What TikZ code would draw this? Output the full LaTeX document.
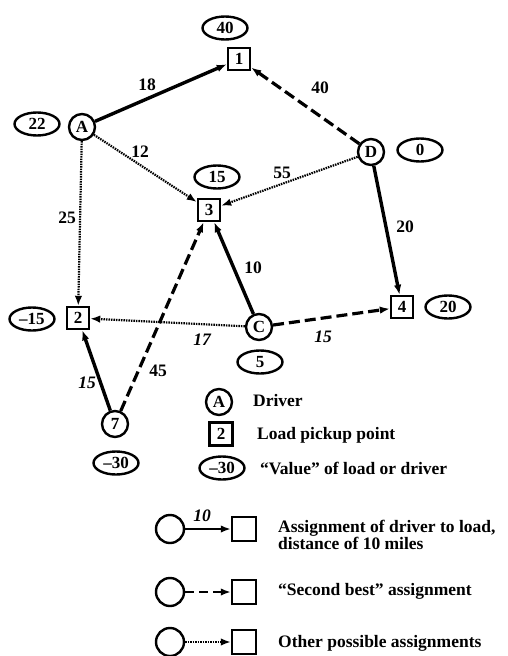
\documentclass[tikz,border=0pt]{standalone}
\usepackage{fontspec}
\setmainfont{Liberation Serif}
\usetikzlibrary{arrows.meta,shapes.geometric}
\begin{document}
\begin{tikzpicture}[x=1pt,y=-1pt,
  drv/.style={circle,draw,line width=2.4pt,minimum size=26pt,inner sep=0pt,font=\fontsize{17}{17}\selectfont\bfseries},
  ld/.style={rectangle,draw,line width=2.4pt,minimum size=22pt,inner sep=0pt,font=\fontsize{17}{17}\selectfont\bfseries},
  val/.style={ellipse,draw,line width=2.4pt,minimum width=45pt,minimum height=23pt,inner sep=0pt,font=\fontsize{17}{17}\selectfont\bfseries},
  lbl/.style={inner sep=0pt,font=\fontsize{17.5}{17}\selectfont\bfseries},
  ilbl/.style={inner sep=0pt,font=\fontsize{17.5}{17}\selectfont\bfseries\itshape},
  txt/.style={inner sep=0pt,anchor=west,align=left,font=\fontsize{17.5}{16}\selectfont\bfseries},
  tip/.style={-{Latex[length=10pt,width=7.5pt]}},
  best/.style={tip,line width=3.4pt},
  second/.style={tip,line width=3.2pt,dash pattern=on 11pt off 5pt},
  other/.style={tip,line width=2.2pt,dash pattern=on 1.5pt off 1pt}
]
\useasboundingbox (0,0) rectangle (508,656);

% drivers
\node[drv] (A) at (82,127) {A};
\node[drv] (D) at (371,152) {D};
\node[drv] (C) at (259,327) {C};
\node[drv] (N7) at (115,424) {7};
% loads
\node[ld] (L1) at (239,59) {1};
\node[ld] (L3) at (209,210) {3};
\node[ld] (L2) at (78,318) {2};
\node[ld] (L4) at (402,307) {4};
% values
\node[val] (V1) at (225,28) {40};
\node[val] (VA) at (37,124) {22};
\node[val] (V3) at (217,177) {15};
\node[val] (VD) at (420,150) {0};
\node[val] (V4) at (448,307) {20};
\node[val] (V2) at (32,319) {--15};
\node[val] (VC) at (260,362) {5};
\node[val] (V7) at (116,463) {--30};

% connectors
\draw[best] (A) -- (L1);
\draw[second] (D) -- (L1);
\draw[other] (A) -- (L3);
\draw[other] (D) -- (L3);
\draw[other] (A) -- (L2);
\draw[best] (D) -- (L4);
\draw[best] (C) -- (L3);
\draw[other] (C) -- (L2);
\draw[second] (C) -- (L4);
\draw[best] (N7) -- (L2);
\draw[second] (N7) -- (L3);

% connector labels
\node[lbl] (e18) at (147,85) {18};
\node[lbl] (e40) at (320,88) {40};
\node[lbl] (e12) at (140,152) {12};
\node[lbl] (e55) at (282,173) {55};
\node[lbl] (e25) at (67,218) {25};
\node[lbl] (e20) at (405,227) {20};
\node[lbl] (e10) at (253,268) {10};
\node[ilbl] (e17) at (202,340) {17};
\node[ilbl] (e15a) at (323,337) {15};
\node[ilbl] (e15b) at (87,383) {15};
\node[lbl] (e45) at (158,371) {45};

% legend
\node[drv] (LA) at (219,402) {A};
\node[txt] (tA) at (253,401) {Driver};
\node[ld,minimum size=23pt] (LL) at (221,434) {2};
\node[txt] (tL) at (257,435) {Load pickup point};
\node[val] (LV) at (222,468) {--30};
\node[txt] (tV) at (260,468) {``Value'' of load or driver};

\node[drv,minimum size=28pt] (c1) at (170,529) {};
\node[ld,minimum size=24pt] (s1) at (244,529) {};
\draw[tip,line width=2.8pt] (c1) -- (s1);
\node[ilbl] (l10) at (202,516) {10};
\node[txt] (t1) at (278,535) {Assignment of driver to load,\\distance of 10 miles};

\node[drv,minimum size=28pt] (c2) at (170,592) {};
\node[ld,minimum size=24pt] (s2) at (244,592) {};
\draw[second,line width=2.8pt,dash pattern=on 9pt off 5pt] (c2) -- (s2);
\node[txt] (t2) at (278,591) {``Second best'' assignment};

\node[drv,minimum size=28pt] (c3) at (170,642) {};
\node[ld,minimum size=24pt] (s3) at (244,642) {};
\draw[other,line width=1.8pt] (c3) -- (s3);
\node[txt] (t3) at (278,643) {Other possible assignments};
\end{tikzpicture}
\end{document}
